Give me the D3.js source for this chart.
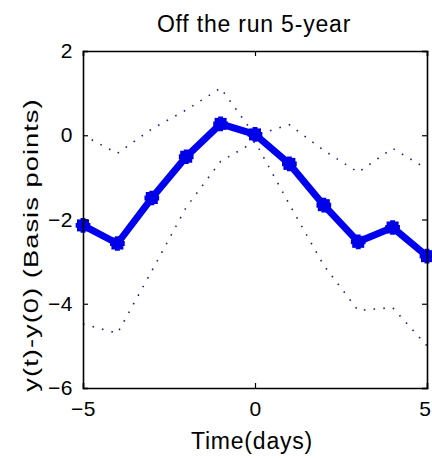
<!DOCTYPE html>
<html>
<head>
<meta charset="utf-8">
<script src="https://cdn.jsdelivr.net/npm/d3@7"></script>
<style>
  html, body { margin: 0; padding: 0; background: #fff; }
  svg { display: block; }
  text { font-family: "Liberation Sans", Arial, sans-serif; fill: #000; }
</style>
</head>
<body>
<svg id="chart" width="432" height="458"></svg>
<script>
// ---- data ----
const days = [-5, -4, -3, -2, -1, 0, 1, 2, 3, 4, 5];
const meanResponse = [-2.14, -2.57, -1.49, -0.51, 0.27, 0.02, -0.68, -1.66, -2.53, -2.19, -2.87];
const upperBand = [0.0, -0.43, 0.15, 0.6, 1.12, 0.0, 0.25, -0.36, -0.88, -0.31, -0.8];
const lowerBand = [-4.48, -4.7, -3.22, -1.71, -0.62, -0.15, -1.64, -3.09, -4.16, -4.09, -5.0];
const xTicks = [-5, 0, 5];
const yTicks = [2, 0, -2, -4, -6];
const titleText = "Off the run 5-year";
const xLabel = "Time(days)";
const yLabel = "y(t)-y(0) (Basis points)";

// ---- layout ----
const svg = d3.select("#chart");
const pLeft = 83, pRight = 427, pTop = 51, pBottom = 388;
const x = d3.scaleLinear().domain([-5, 5]).range([pLeft, pRight]);
const y = d3.scaleLinear().domain([-6, 2]).range([pBottom, pTop]);

const axB = d3.axisBottom(x).tickValues(xTicks).tickSize(-5).tickPadding(13).tickFormat(d3.format("d"));
const axT = d3.axisTop(x).tickValues(xTicks).tickSize(-5).tickFormat("");
const axL = d3.axisLeft(y).tickValues(yTicks).tickSize(-5).tickPadding(10).tickFormat(d3.format("d"));
const axR = d3.axisRight(y).tickValues(yTicks).tickSize(-5).tickFormat("");

function styleAxis(g) {
  g.select(".domain").attr("stroke", "#000").attr("stroke-width", 1.6);
  g.selectAll(".tick line").attr("stroke", "#000").attr("stroke-width", 1.2);
  g.selectAll(".tick text").style("font-family", "Liberation Sans, Arial, sans-serif")
    .style("font-size", "21px").style("letter-spacing", "0.5px").attr("fill", "#111");
}

const line = d3.line().x((d, i) => x(days[i])).y(d => y(d));
const plot = svg.append("g");

[upperBand, lowerBand].forEach(band => {
  plot.append("path").datum(band).attr("d", line)
    .attr("fill", "none").attr("stroke", "#20208a").attr("stroke-width", 1.6)
    .attr("stroke-dasharray", "1.6,8.2").attr("stroke-linecap", "butt");
});

plot.append("path").datum(meanResponse).attr("d", line)
  .attr("fill", "none").attr("stroke", "#0000f0").attr("stroke-width", 7)
  .attr("stroke-linejoin", "round");

plot.selectAll(".mk").data(meanResponse).enter().append("rect")
  .attr("x", (d, i) => x(days[i]) - 6).attr("y", d => y(d) - 6)
  .attr("width", 12).attr("height", 12).attr("fill", "#0000e8");
plot.selectAll(".mk2").data(meanResponse).enter().append("path")
  .attr("transform", (d, i) => `translate(${x(days[i])},${y(d)})`)
  .attr("d", d3.symbol().type(d3.symbolCross).size(120))
  .attr("fill", "#0000e8");

const gB = svg.append("g").attr("transform", `translate(0,${pBottom})`).call(axB).call(styleAxis);
// keep the last tick label inside the window, as in the reference
gB.selectAll(".tick text").filter(d => d === 5).attr("text-anchor", "end").attr("x", 4);
svg.append("g").attr("transform", `translate(0,${pTop})`).call(axT).call(styleAxis);
svg.append("g").attr("transform", `translate(${pLeft},0)`).call(axL).call(styleAxis);
svg.append("g").attr("transform", `translate(${pRight},0)`).call(axR).call(styleAxis);

svg.append("text").attr("x", 254).attr("y", 32).attr("text-anchor", "middle")
  .style("font-size", "23px").style("letter-spacing", "0.8px").attr("fill", "#111").text(titleText);
svg.append("text").attr("x", 252).attr("y", 449).attr("text-anchor", "middle")
  .style("font-size", "23px").style("letter-spacing", "0.8px").attr("fill", "#111").text(xLabel);
svg.append("text").attr("transform", "translate(38,245) rotate(-90) scale(1.3,1)").attr("text-anchor", "middle")
  .style("font-size", "21px").style("letter-spacing", "0.8px").attr("fill", "#111").text(yLabel);
</script>
</body>
</html>
